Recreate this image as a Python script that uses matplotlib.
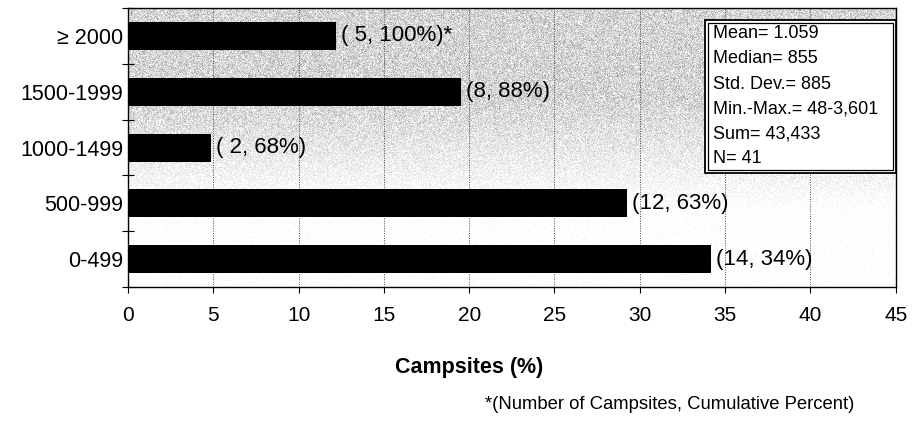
import numpy as np
import matplotlib
matplotlib.use("Agg")
import matplotlib.pyplot as plt
from matplotlib.patches import Rectangle

plt.rcParams['font.family'] = ['Liberation Sans', 'DejaVu Sans']

# Campsite size classes (bottom to top) and number of campsites in each
categories = ["0-499", "500-999", "1000-1499", "1500-1999", "\u2265 2000"]
counts = [14, 12, 2, 8, 5]
bar_labels = ["(14, 34%)", "(12, 63%)", "( 2, 68%)", "(8, 88%)", "( 5, 100%)*"]
x_ticks = [0, 5, 10, 15, 20, 25, 30, 35, 40, 45]
stats_lines = ["Mean= 1.059", "Median= 855", "Std. Dev.= 885",
               "Min.-Max.= 48-3,601", "Sum= 43,433", "N= 41"]

total = sum(counts)
percent = [c / total * 100 for c in counts]

fig = plt.figure(figsize=(9.14, 4.24), dpi=100)
ax = fig.add_axes([0.140, 0.323, 0.840, 0.658])

# halftone-like grey shading, darker at the top and fading downward
rng = np.random.default_rng(3)
h, w = 280, 770
grad = np.linspace(0.0, 1.0, h)[:, None]
fade = np.clip((grad - 0.32) / 0.40, 0, 1)
base = 0.83 + 0.17 * fade
noise_amp = 0.07 * (1 - fade) + 0.02
tex = np.clip(base + rng.normal(0, 1, (h, w)) * noise_amp, 0, 1)
ax.imshow(tex, cmap="gray", vmin=0, vmax=1, aspect="auto",
          extent=(0, 45, -0.5, 4.5), zorder=0, interpolation="nearest")

y = np.arange(len(categories))
ax.barh(y, percent, height=0.5, color="black", zorder=3)

for yi, p, lab in zip(y, percent, bar_labels):
    ax.text(p + 0.3, yi, lab, va="center", ha="left", fontsize=16, zorder=4)

ax.set_xlim(0, 45)
ax.set_ylim(-0.5, 4.5)
ax.set_xticks(x_ticks)
ax.set_xticklabels([str(t) for t in x_ticks], fontsize=15)
ax.set_yticks(y)
ax.set_yticklabels(categories, fontsize=15.5)
ax.tick_params(axis="y", length=0, pad=3.5)
ax.set_yticks(np.arange(-0.5, 4.6, 1.0), minor=True)
ax.tick_params(axis="y", which="minor", direction="inout", length=8, width=0.8)
ax.tick_params(axis="x", direction="out", length=4, width=0.8, pad=10)

ax.grid(axis="x", linestyle=(0, (1, 1.5)), color="#444444", linewidth=0.7, zorder=1)
ax.set_axisbelow(True)
for s in ax.spines.values():
    s.set_linewidth(1.0)
    s.set_zorder(5)

ax.set_xlabel("Campsites (%)", fontsize=15.5, fontweight="bold")
ax.xaxis.set_label_coords(0.444, -0.252)

# summary statistics box with a double border
bx0, by0, bx1, by1 = 0.751, 0.409, 1.0, 0.957
ax.add_patch(Rectangle((bx0, by0), bx1 - bx0, by1 - by0, transform=ax.transAxes,
                       facecolor="white", edgecolor="black", linewidth=1.3,
                       zorder=6, clip_on=False))
ax.add_patch(Rectangle((bx0 + 0.004, by0 + 0.011), bx1 - bx0 - 0.008,
                       by1 - by0 - 0.022, transform=ax.transAxes,
                       facecolor="none", edgecolor="black", linewidth=0.9,
                       zorder=7, clip_on=False))
line_y = [0.910, 0.818, 0.727, 0.638, 0.550, 0.462]
for ly, line in zip(line_y, stats_lines):
    ax.text(0.762, ly, line, transform=ax.transAxes,
            fontsize=13, va="center", ha="left", zorder=8)

fig.text(0.531, 0.045, "*(Number of Campsites, Cumulative Percent)", fontsize=13.3,
         ha="left", va="center")

fig.savefig("out.png", dpi=100)
